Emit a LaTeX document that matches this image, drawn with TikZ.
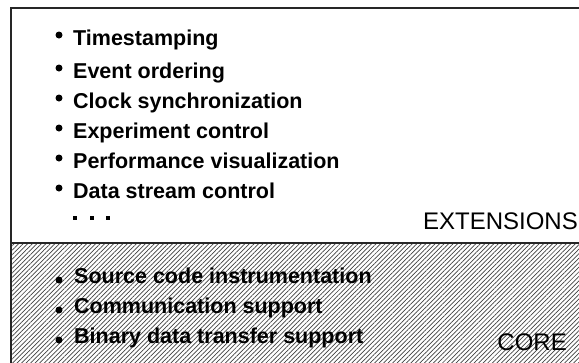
\documentclass[tikz,border=0pt]{standalone}
\usepackage{fontspec}
\setmainfont{Liberation Sans}
\usetikzlibrary{patterns.meta}
\begin{document}
\begin{tikzpicture}[x=1pt,y=-1pt,
  item/.style={anchor=base west,inner sep=0pt,font=\fontsize{21.5}{24}\selectfont\bfseries},
  label/.style={anchor=base east,inner sep=0pt,font=\fontsize{24}{28}\selectfont},
  dotmark/.style={circle,fill=black,inner sep=0pt,minimum size=7pt},
  sq/.style={rectangle,fill=black,inner sep=0pt,minimum size=3.5pt},
  frame/.style={line width=1.5pt,draw=black!85}]
\useasboundingbox (0,0) rectangle (579,362);
% hatched core
\fill[pattern={Lines[angle=45,distance=3.2pt,line width=0.7pt]},pattern color=black!75] (11,243) rectangle (580,363);
% frame
\draw[frame] (11,363) -- (11,8) -- (580,8);
\draw[frame] (11,243) -- (580,243);
% extensions
\node[item] (t1) at (73,45) {Timestamping};
\node[item] (t2) at (73,78) {Event ordering};
\node[item] (t3) at (73,108) {Clock synchronization};
\node[item] (t4) at (73,138) {Experiment control};
\node[item] (t5) at (73,168) {Performance visualization};
\node[item] (t6) at (73,198) {Data stream control};
\foreach \y/\n in {45/1,78/2,108/3,138/4,168/5,198/6} \node[dotmark] (b\n) at (59,\y-10) {};
\node[sq] (d1) at (75,218) {};
\node[sq] (d2) at (92,218) {};
\node[sq] (d3) at (108,218) {};
\node[label] (ext) at (578,229) {EXTENSIONS};
% core
\node[item] (c1) at (74,283) {Source code instrumentation};
\node[item] (c2) at (74,313) {Communication support};
\node[item] (c3) at (74,343) {Binary data transfer support};
\foreach \y/\n in {283/1,313/2,343/3} \node[dotmark] (cb\n) at (59,\y-3) {};
\node[label] (core) at (567,350) {CORE};
\end{tikzpicture}
\end{document}
